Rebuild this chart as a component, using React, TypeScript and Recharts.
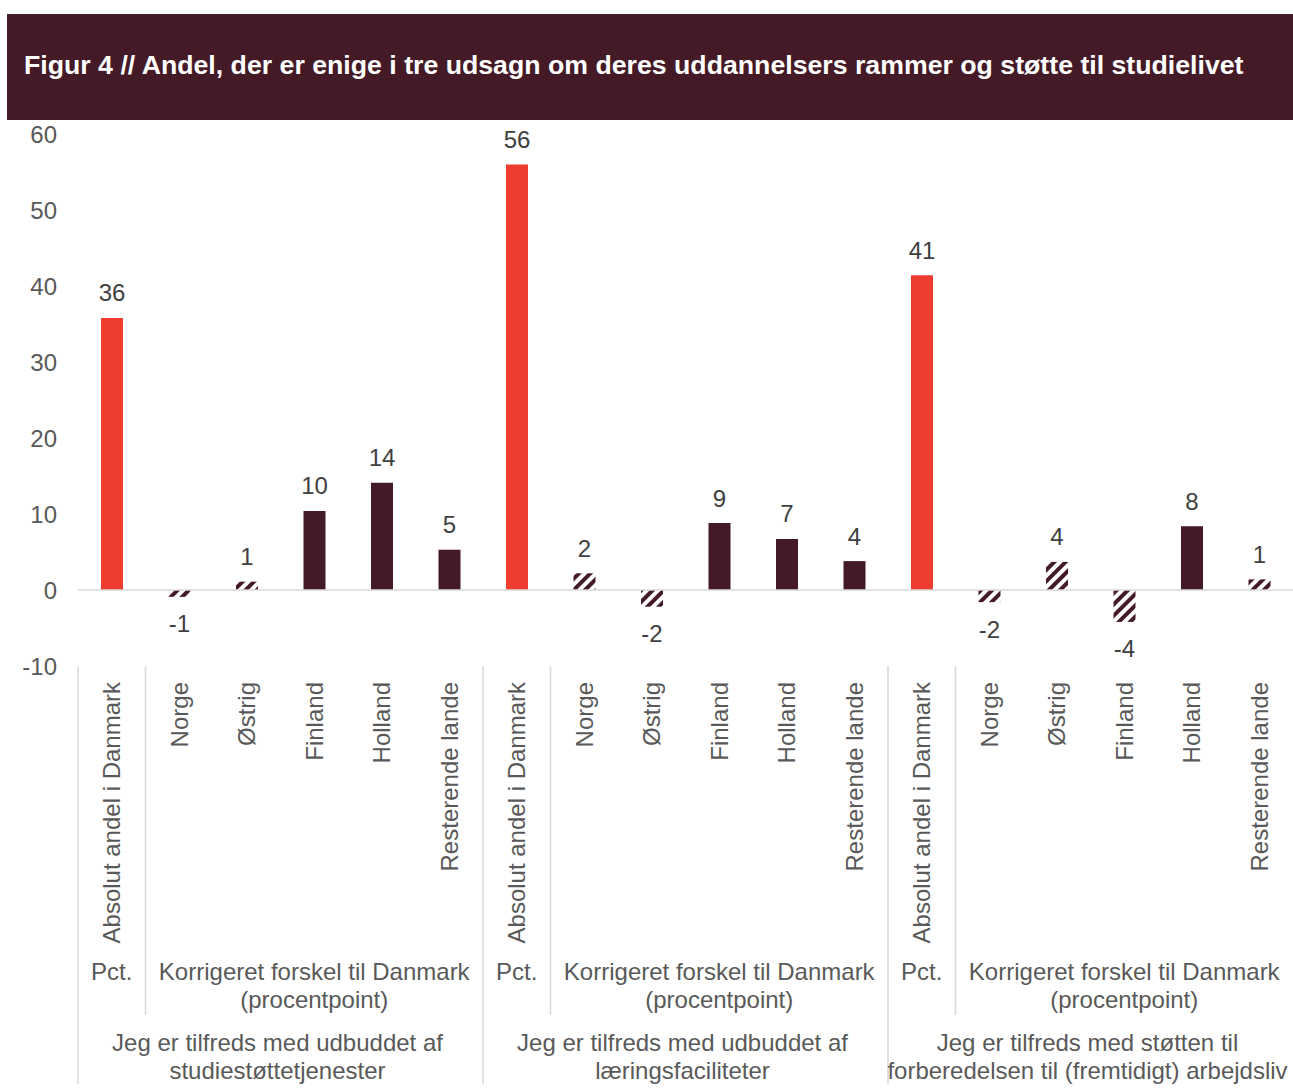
import React from 'react';
import { BarChart, Bar, XAxis, YAxis, Cell, LabelList, ReferenceLine } from 'recharts';

const title =
  'Figur 4 // Andel, der er enige i tre udsagn om deres uddannelsers rammer og støtte til studielivet';

const countries = ['Absolut andel i Danmark', 'Norge', 'Østrig', 'Finland', 'Holland', 'Resterende lande'];

// one list per statement, same order as countries
const values1 = [35.8, -0.9, 1.1, 10.4, 14.1, 5.3];
const values2 = [56.0, 2.2, -2.2, 8.8, 6.7, 3.8];
const values3 = [41.4, -1.6, 3.7, -4.2, 8.4, 1.4];

// abs = absolute share, sig = significant difference, ns = not significant (hatched)
const kinds1 = ['abs', 'ns', 'ns', 'sig', 'sig', 'sig'];
const kinds2 = ['abs', 'ns', 'ns', 'sig', 'sig', 'sig'];
const kinds3 = ['abs', 'ns', 'ns', 'ns', 'sig', 'ns'];

const groupTitles = [
  ['Jeg er tilfreds med udbuddet af', 'studiestøttetjenester'],
  ['Jeg er tilfreds med udbuddet af', 'læringsfaciliteter'],
  ['Jeg er tilfreds med støtten til', 'forberedelsen til (fremtidigt) arbejdsliv'],
];
const unitAbs = 'Pct.';
const unitDiff = ['Korrigeret forskel til Danmark', '(procentpoint)'];

const yTicks = [-10, 0, 10, 20, 30, 40, 50, 60];

const groups = [
  { values: values1, kinds: kinds1 },
  { values: values2, kinds: kinds2 },
  { values: values3, kinds: kinds3 },
];

const data = groups.flatMap((g, gi) =>
  countries.map((name, i) => ({
    key: `${gi}-${i}`,
    name,
    value: g.values[i],
    kind: g.kinds[i],
    group: gi,
    pos: i,
  }))
);

const FONT = '"Liberation Sans", Arial, sans-serif';
const TEXT = '#595959';
const RED = '#EE3D2F';
const MAROON = '#441A27';
const SEP = '#D9D9D9';
const FS = 24;

const colorFor = (kind: string) =>
  kind === 'abs' ? RED : kind === 'sig' ? MAROON : 'url(#hatch)';

const CategoryTick = (props: any) => {
  const { x, y, index, payload } = props;
  const d = data[index];
  const half = payload && payload.offset ? payload.offset : 33.75;
  const band = half * 2;
  return (
    <g fontFamily={FONT} fontSize={FS} fill={TEXT}>
      <text
        x={x}
        y={y + 16}
        dy="0.35em"
        textAnchor="end"
        transform={`rotate(-90, ${x}, ${y + 16})`}
        fill={TEXT}
      >
        {d.name}
      </text>
      {d.pos === 0 && (
        <g>
          <line x1={x - half} x2={x - half} y1={y} y2={y + 418} stroke={SEP} strokeWidth={1.5} />
          <line x1={x + half} x2={x + half} y1={y} y2={y + 349} stroke={SEP} strokeWidth={1.5} />
          <text x={x} y={y + 306} dy="0.35em" textAnchor="middle" fill={TEXT}>
            {unitAbs}
          </text>
          {unitDiff.map((t, i) => (
            <text key={i} x={x + half + 2.5 * band} y={y + 306 + i * 28} dy="0.35em" textAnchor="middle" fill={TEXT}>
              {t}
            </text>
          ))}
          {groupTitles[d.group].map((t, i) => (
            <text key={i} x={x - half + 3 * band - 3} y={y + 377 + i * 28} dy="0.35em" textAnchor="middle" fill={TEXT}>
              {t}
            </text>
          ))}
        </g>
      )}
    </g>
  );
};

const ValueLabel = (props: any) => {
  const { x, y, width, height, value } = props;
  const top = Math.min(y, y + height);
  const bottom = Math.max(y, y + height);
  const cy = value >= 0 ? top - 25 : bottom + 27;
  return (
    <text
      x={x + width / 2}
      y={cy}
      dy="0.35em"
      textAnchor="middle"
      fontFamily={FONT}
      fontSize={FS}
      fill="#404040"
    >
      {Math.round(value)}
    </text>
  );
};

export default function App() {
  return (
    <div style={{ position: 'relative', width: 1293, height: 1089, fontFamily: FONT }}>
      <style>{`body{margin:0;overflow:hidden}`}</style>
      <div
        style={{
          position: 'absolute',
          left: 7,
          top: 14,
          width: 1286,
          height: 106,
          background: '#441A26',
          color: '#fff',
          fontWeight: 'bold',
          fontSize: 26.7,
          display: 'flex',
          alignItems: 'center',
          paddingLeft: 17,
          paddingBottom: 4,
          boxSizing: 'border-box',
          whiteSpace: 'nowrap',
        }}
      >
        {title}
      </div>
      <div style={{ position: 'absolute', left: 0, top: 120 }}>
        <BarChart
          width={1293}
          height={969}
          data={data}
          margin={{ top: 14, right: 0, left: 0, bottom: 0 }}
          barSize={22}
        >
          <defs>
            <pattern id="hatch" patternUnits="userSpaceOnUse" width={8} height={8} patternTransform="rotate(45)">
              <rect width={8} height={8} fill="#fff" />
              <rect width={4} height={8} fill={MAROON} />
            </pattern>
          </defs>
          <XAxis
            dataKey="key"
            interval={0}
            height={423}
            axisLine={false}
            tickLine={false}
            tickSize={0}
            tickMargin={0}
            tick={<CategoryTick />}
          />
          <YAxis
            type="number"
            domain={[-10, 60]}
            ticks={yTicks}
            width={78}
            axisLine={false}
            tickLine={false}
            tickMargin={15}
            tick={{ fontFamily: FONT, fontSize: FS, fill: TEXT }}
          />
          <ReferenceLine y={0} stroke={SEP} strokeWidth={1.5} />
          <Bar dataKey="value" isAnimationActive={false}>
            {data.map((d) => (
              <Cell key={d.key} fill={colorFor(d.kind)} />
            ))}
            <LabelList dataKey="value" content={<ValueLabel />} />
          </Bar>
        </BarChart>
      </div>
    </div>
  );
}
